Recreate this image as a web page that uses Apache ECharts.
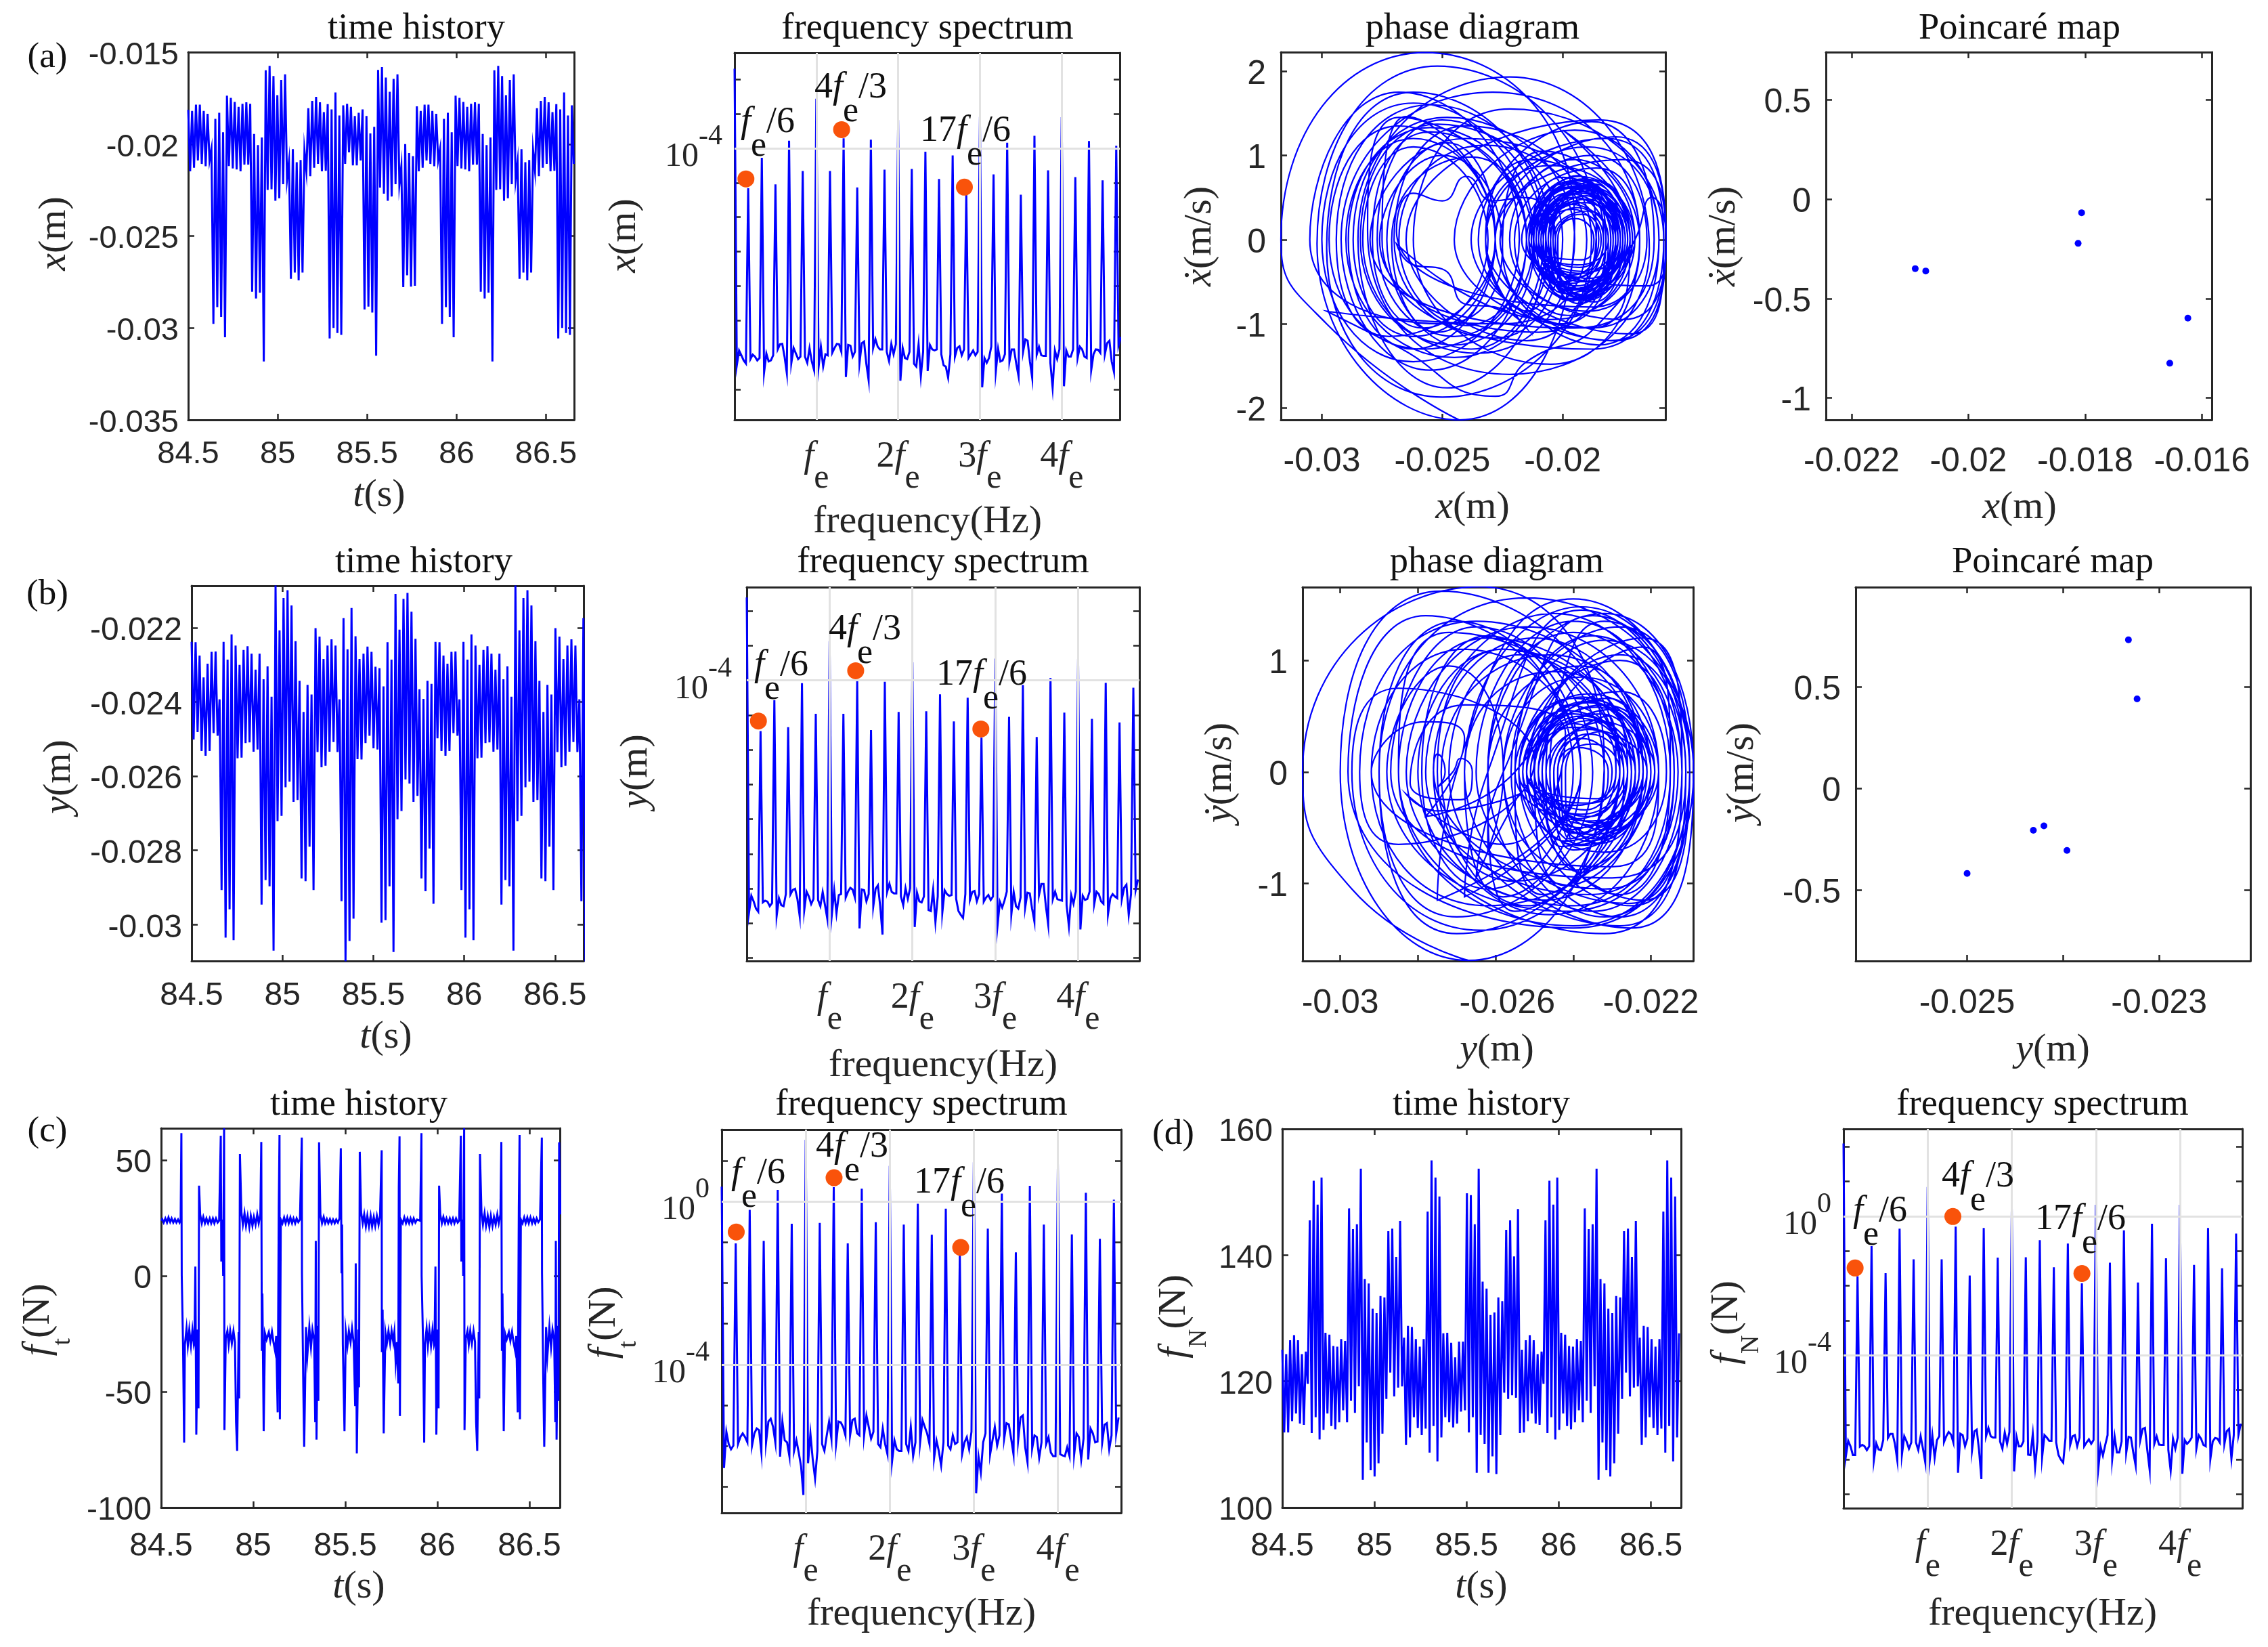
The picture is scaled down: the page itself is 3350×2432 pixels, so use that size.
<!DOCTYPE html>
<html><head><meta charset="utf-8">
<style>html,body{margin:0;padding:0;background:#fff}#c{width:3350px;height:2432px}</style>
<script src="https://cdn.jsdelivr.net/npm/echarts@6/dist/echarts.min.js"></script>
</head><body><div id="c"></div>
<script>
// ---------- time histories: alternating crest / trough samples ----------
const historyX = [
-.01814,-.02148,-.0182,-.02129,-.01786,-.02089,-.01786,-.02108,-.0182,-.0212,-.01835,-.02089,-.02026,-.02978,-.01863,-.02887,-.0183,-.0294,-.01936,-.03051,
-.01737,-.0212,-.01749,-.02132,-.01771,-.02138,-.01798,-.02148,-.01781,-.02112,-.01773,-.02112,-.01781,-.02803,-.01945,-.0284,-.02006,-.02808,-.01964,-.03182,
-.01599,-.02249,-.01575,-.02246,-.0163,-.02308,-.01734,-.02295,-.01651,-.02218,-.01621,-.02194,-.02096,-.02733,-.02028,-.02699,-.02099,-.02741,-.02087,-.02699,
-.02034,-.02148,-.01805,-.02175,-.01765,-.02129,-.01743,-.02108,-.01773,-.02148,-.01826,-.02145,-.01783,-.03057,-.01811,-.03,-.01719,-.03028,-.01844,-.03038,
-.01789,-.02108,-.01781,-.02045,-.01798,-.02116,-.01847,-.02116,-.0183,-.02089,-.01811,-.0290,-.01847,-.02884,-.01942,-.02916,-.01906,-.03151,
-.01597,-.02237,-.01581,-.0227,-.01638,-.02308,-.01716,-.02285,-.01646,-.02218,-.01621,-.0222,-.0212,-.02778,-.02,-.02714,-.02049,-.02775,-.02065,-.02771,-.01795,-.02148,
-.0182,-.02129,-.01786,-.02089,-.01786,-.02108,-.0182,-.0212,-.01835,-.02089,-.02026,-.02978,-.01863,-.02887,-.0183,-.0294,-.01936,-.03051,
-.01737,-.0212,-.01749,-.02132,-.01771,-.02138,-.01798,-.02148,-.01781,-.02112,-.01773,-.02112,-.01781,-.02803,-.01945,-.0284,-.02006,-.02808,-.01964,-.03182,
-.01599,-.02249,-.01575,-.02246,-.0163,-.02308,-.01734,-.02295,-.01651,-.02218,-.01621,-.02194,-.02096,-.02733,-.02028,-.02699,-.02099,-.02741,-.02087,-.02699,
-.02034,-.02148,-.01805,-.02175,-.01765,-.02129,-.01743,-.02108,-.01773,-.02148,-.01826,-.02145,-.01783,-.03057,-.01811,-.03,-.01719,-.03028,-.01844,-.03038,-.01789,-.02108
];
const historyY = [
-.02238,-.02501,-.02239,-.02481,-.02275,-.02532,-.02334,-.02545,-.02297,-.02532,-.02265,-.02484,-.02264,-.02491,-.02393,-.02907,-.02238,-.03035,-.02286,-.02959,
-.02218,-.03042,-.02248,-.02552,-.023,-.0255,-.0226,-.02511,-.0225,-.02509,-.0227,-.02534,-.02313,-.02528,-.0227,-.02946,-.02339,-.0288,-.02304,-.02897,
-.02386,-.0307,-.02086,-.02721,-.02207,-.02707,-.0212,-.0263,-.02099,-.02615,-.0214,-.02669,-.02236,-.02664,-.02343,-.02876,-.02427,-.02883,-.02354,-.0279,
-.0238,-.02907,-.02201,-.02535,-.02224,-.02576,-.02284,-.02572,-.02248,-.02534,-.02231,-.02508,-.02248,-.02535,-.02393,-.02937,-.02174,-.03099,-.02258,-.03044,
-.02147,-.02984,-.02223,-.02554,-.02284,-.02555,-.0227,-.02511,-.02251,-.02491,-.02265,-.02525,-.02305,-.02528,-.02309,-.02995,-.02358,-.02988,-.02239,-.02897,
-.02286,-.03074,-.02109,-.02716,-.02205,-.02694,-.02122,-.02609,-.02106,-.0262,-.02157,-.02669,-.0223,-.02653,-.02366,-.02876,-.02392,-.0291,-.02343,-.02795,
-.02351,-.02944,-.02238,-.02498,-.02239,-.02532,-.02275,-.02545,-.02297,-.02532,-.02265,-.02484,-.02264,-.02491,-.02393,-.02907,-.02238,-.03035,-.02286,-.02959,
-.02218,-.03042,-.02248,-.02552,-.023,-.0255,-.0226,-.02511,-.0225,-.02509,-.0227,-.02534,-.02313,-.02528,-.0227,-.02946,-.02339,-.0288,-.02304,-.02897,
-.02386,-.0307,-.02086,-.02721,-.02207,-.02707,-.0212,-.0263,-.02099,-.02615,-.0214,-.02669,-.02236,-.02664,-.02343,-.02876,-.02427,-.02883,-.02354,-.0279,
-.0238,-.02907,-.02201,-.02535,-.02224,-.02576,-.02284,-.02572,-.02248,-.02534,-.02231,-.02508,-.02248,-.02535,-.02393,-.02937,-.02174,-.03099,-.02258,-.03044
];
const historyFN = [
125,111.9,124.3,111.9,126.5,113.7,127.3,114.9,126.5,113.3,124.3,113.1,124.7,119.6,145.5,111.8,151.8,114.3,148,110.8,
152.3,112.3,127.7,114.9,127.4,112.9,125.6,112.4,125.5,113.5,126.7,115.4,126.4,113.5,147.4,116.9,144.1,115,144.9,119.2,
153.7,104.4,136.2,110.3,135.5,105.9,131.5,104.9,130.8,107,133.5,111.7,133.3,117.2,143.8,121.4,144.2,117.6,139.7,119,
145.4,119.2,126.9,109.9,128.8,111.1,128.6,114.3,126.7,112.6,125.5,111.5,126.7,112.5,146.9,108.7,155,112.9,152.3,107.3,
149.3,111.1,127.6,114.3,127.7,113.5,126.1,112.7,123.8,113.3,126.3,115.2,126.3,115.4,149.8,111.9,149.5,114.3,144.9,105.5,
153.7,111.5,135.8,110.1,134.7,105.5,130.5,108.1,130.9,105.3,133.3,111.5,132.7,118.2,144,117.2,145.5,117.8,139.8,117.4,
147.3,111.8,125,111.9,126.5,113.7,127.3,114.9,126.5,113.3,124.3,113.1,124.7,119.6,145.5,111.8,151.8,114.3,148,110.8,
152.3,112.3,127.7,114.9,127.4,112.9,125.6,112.4,125.5,113.5,126.7,115.4,126.4,113.5,147.4,116.9,144.1,115,144.9,119.2,
153.7,104.4,136.2,110.3,135.5,105.9,131.5,104.9,130.8,107,133.5,111.7,133.3,117.2,143.8,121.4,144.2,117.6,139.7,119,
145.4,119.2,126.9,109.9,128.8,111.1,128.6,114.3,126.7,112.6,125.5,111.5,126.7,112.5,146.9,108.7,155,112.9,152.3,107.3,149.3,111.1,127.6
];
// tangential force: [seconds after 84.5, newtons]
const historyFt = [
[0,23.8],[.006,24.5],[.014,23],[.023,24.8],[.032,23],[.04,25.2],[.049,23.2],[.057,24.8],[.066,23],[.075,24.5],[.083,23],[.092,24.3],[.1,23],[.106,24.3],
[.11,61.6],[.112,0],[.119,-29.7],[.125,-72],[.129,-29.7],[.138,-22.7],[.145,-30.2],[.153,-23.2],[.162,-30.2],[.17,-23.4],[.178,-29.7],[.181,-28.6],[.186,4],[.191,-68.6],[.199,-23.2],[.203,-57.2],[.206,38.9],
[.212,26.5],[.221,22.7],[.229,25.4],[.238,22.7],[.246,24.8],[.255,22.7],[.264,24.8],[.272,22.7],[.281,24.8],[.289,22.7],[.298,24.8],[.307,23],[.315,23.8],[.318,24.3],[.324,60.5],[.327,6.2],[.332,24.3],[.337,0],[.342,63.7],[.344,-66.6],
[.351,-27],[.36,-23.8],[.367,-29.7],[.375,-23.8],[.384,-29.2],[.393,-23.8],[.401,-28.6],[.407,-63.2],[.413,-75.6],[.421,-24.3],[.424,-52.9],[.428,52.6],
[.436,27.5],[.444,22.1],[.453,27],[.461,21.6],[.47,25.9],[.479,21.1],[.487,25.9],[.496,21.6],[.504,25.4],[.513,22.1],[.522,26.5],[.53,22.7],[.539,26.5],
[.544,57.8],[.547,-32.4],[.55,-7.6],[.557,-67],[.564,-24.8],[.573,-27.5],[.585,-24.3],[.593,-28.1],[.602,-24.1],[.61,-28.6],[.619,-32.4],[.625,-26],[.633,-58.9],[.639,29.7],[.643,60.8],[.645,-61.9],
[.65,24.3],[.659,22.7],[.668,25.2],[.676,22.7],[.685,25.2],[.693,22.7],[.702,25.2],[.711,22.7],[.719,24.8],[.728,22.7],[.736,24.8],[.745,23.2],[.754,24.3],[.764,59.7],[.765,1.1],[.772,-46.4],[.777,-73.8],
[.787,-22.1],[.794,-34.6],[.805,-22.1],[.814,-30.8],[.822,-23.2],[.831,-27.5],[.837,-63.2],[.84,15.1],[.844,-70.7],[.851,-21.6],[.854,-54],[.858,57.6],
[.865,26.5],[.874,22.7],[.883,25.4],[.891,22.7],[.9,24.5],[.908,22.7],[.917,24.5],[.926,22.7],[.934,24.3],[.943,22.7],[.951,24.3],[.96,23],[.969,24.8],
[.976,55.1],[.98,1.1],[.983,22.1],[.987,-29.7],[.996,-67],[1.003,-23.8],[1.012,-30.2],[1.02,-23.8],[1.029,-28.6],[1.037,-22.7],[1.046,-29.2],[1.054,-56.2],[1.057,5.4],[1.063,-76.7],[1.072,-23.2],[1.075,-48.1],[1.079,53.5],
[1.086,27.5],[1.095,22.7],[1.103,26.5],[1.112,21.3],[1.12,25.9],[1.129,21.3],[1.138,25.9],[1.146,21.3],[1.155,25.4],[1.163,21.6],[1.172,25.9],[1.181,22.1],[1.189,25.9],
[1.198,54.2],[1.199,-32.9],[1.203,-14.6],[1.209,-68],[1.218,-24.3],[1.226,-29.2],[1.235,-23.8],[1.244,-29.2],[1.252,-23.8],[1.261,-28.6],[1.267,-24.3],[1.274,-37.3],[1.281,-28.6],[1.288,-46.4],[1.291,38.3],[1.295,60.2],[1.297,-60.5],
[1.302,24.3],[1.312,22.7],[1.321,25.2],[1.33,22.7],[1.338,24.8],[1.347,22.7],[1.355,24.8],[1.364,22.7],[1.372,24.8],[1.381,23],[1.39,24.3],[1.407,23.8],
[1.414,61.6],[1.415,0],[1.423,-29.7],[1.429,-72],[1.433,-29.7],[1.442,-22.7],[1.449,-30.2],[1.457,-23.2],[1.466,-30.2],[1.474,-23.4],[1.482,-29.7],[1.485,-28.6],[1.49,4],[1.495,-68.6],[1.503,-23.2],[1.507,-57.2],[1.51,38.9],
[1.516,26.5],[1.525,22.7],[1.533,25.4],[1.542,22.7],[1.55,24.8],[1.559,22.7],[1.568,24.8],[1.576,22.7],[1.585,24.8],[1.593,22.7],[1.602,24.8],[1.611,23],[1.619,23.8],[1.622,24.3],[1.628,60.5],[1.631,6.2],[1.636,24.3],[1.641,0],[1.646,63.7],[1.648,-66.6],
[1.655,-27],[1.664,-23.8],[1.671,-29.7],[1.679,-23.8],[1.688,-29.2],[1.697,-23.8],[1.705,-28.6],[1.711,-63.2],[1.717,-75.6],[1.725,-24.3],[1.728,-52.9],[1.732,52.6],
[1.74,27.5],[1.748,22.1],[1.757,27],[1.765,21.6],[1.774,25.9],[1.783,21.1],[1.791,25.9],[1.8,21.6],[1.808,25.4],[1.817,22.1],[1.826,26.5],[1.834,22.7],[1.843,26.5],
[1.848,57.8],[1.851,-32.4],[1.854,-7.6],[1.861,-67],[1.868,-24.8],[1.877,-27.5],[1.889,-24.3],[1.897,-28.1],[1.906,-24.1],[1.914,-28.6],[1.923,-32.4],[1.929,-26],[1.937,-58.9],[1.943,29.7],[1.947,60.8],[1.949,-61.9],
[1.954,24.3],[1.963,22.7],[1.972,25.2],[1.98,22.7],[1.989,25.2],[1.997,22.7],[2.006,25.2],[2.015,22.7],[2.023,24.8],[2.032,22.7],[2.04,24.8],[2.049,23.2],[2.058,24.3],[2.068,59.7],[2.069,1.1],[2.076,-46.4],[2.081,-73.8],
[2.091,-22.1],[2.098,-34.6],[2.109,-22.1],[2.118,-30.8],[2.126,-23.2],[2.135,-27.5],[2.141,-63.2],[2.144,15.1],[2.148,-70.7],[2.155,-21.6],[2.158,-54],[2.162,57.6],[2.169,26.5]
];
// ---------- log10 amplitude spectra, harmonic then five noise-floor bins ----------
const spectrumX = [
-1.69,-10.3,-9.87,-10.01,-10.16,-10.25, -5.16,-10.12,-9.99,-10.05,-10.16,-10.09, -4.28,-10.51,-9.96,-10.19,-10.16,-10.01, -5.05,-9.84,-9.69,-9.68,-10.05,-10.53,
-3.78,-10.23,-9.8,-9.96,-10.12,-10.05, -4.66,-10.05,-10.23,-9.8,-10.19,-10.44, -2.56,-10.34,-9.76,-10.34,-9.98,-10.01, -4.66,-9.94,-9.8,-9.68,-9.69,-9.91,
-3.71,-10.64,-9.71,-9.73,-10.05,-9.91, -5.14,-10.23,-9.66,-9.61,-10.26,-10.73, -3.75,-9.8,-9.54,-9.76,-9.84,-9.84, -4.62,-9.91,-10.18,-9.68,-9.98,-9.69,
-3.18,-10.75,-9.8,-10.09,-10.12,-9.91, -4.6,-10.26,-10.34,-9.69,-10.62,-9.91, -4.1,-10.47,-9.71,-9.84,-9.87,-9.84, -4.89,-9.98,-10.3,-10.34,-10.66,-9.98,
-4.21,-10.05,-9.8,-9.75,-10.01,-9.84, -5.35,-10.09,-9.98,-9.87,-10.01,-9.91, -3.09,-10.94,-10.09,-10.23,-10.09,-9.76, -4.76,-10.48,-9.82,-10.19,-10.16,-9.98,
-3.84,-10.19,-9.84,-9.84,-10.26,-10.62, -5.35,-9.91,-9.55,-9.59,-10.19,-10.66, -3.64,-9.99,-9.76,-10.01,-10.03,-10.03, -4.64,-10.23,-10.96,-9.87,-10.12,-9.84,
-3.1,-10.91,-9.87,-10.05,-10.05,-9.84, -4.84,-10.09,-9.76,-9.84,-10.05,-10.09, -3.79,-10.44,-9.98,-9.84,-9.85,-9.94, -4.93,-9.98,-9.66,-9.59,-10.19,-10.49,
-3.93,-9.73,-9.48
];
const spectrumY = [
-1.61,-10.69,-10.21,-10.37,-10.58,-10.67, -5.46,-10.4,-10.35,-10.38,-10.51,-10.42, -4.57,-10.79,-10.28,-10.48,-10.51,-10.16, -5.35,-10.17,-10.04,-10.01,-10.3,-10.79,
-4.08,-10.62,-10.09,-10.23,-10.45,-10.3, -4.96,-10.33,-10.51,-10.1,-10.48,-10.87, -2.87,-10.74,-10.05,-10.72,-10.19,-10.16, -4.96,-10.26,-10.09,-9.98,-10.03,-10.26,
-4.01,-11.15,-10.03,-10.05,-10.37,-10.16, -5.43,-10.51,-10.01,-9.91,-10.51,-11.33, -4.04,-10.1,-9.86,-10.1,-10.14,-10.14, -4.91,-10.23,-10.48,-9.99,-10.3,-9.99,
-3.48,-11.11,-10.12,-10.37,-10.4,-10.23, -4.89,-10.62,-10.65,-10.03,-10.97,-10.23, -4.4,-10.69,-10.05,-10.16,-10.21,-10.19, -5.18,-10.3,-10.65,-10.76,-10.85,-10.16,
-4.5,-10.33,-10.1,-10.07,-10.37,-10.16, -5.65,-10.38,-10.26,-10.19,-10.33,-10.23, -3.37,-11.06,-10.38,-10.55,-10.35,-10.09, -5.05,-10.74,-10.1,-10.51,-10.58,-10.26,
-4.13,-10.55,-10.12,-10.14,-10.58,-10.95, -5.63,-10.19,-9.87,-9.87,-10.51,-11.04, -3.93,-10.31,-10.09,-10.31,-10.33,-10.35, -4.93,-10.48,-11.09,-10.19,-10.44,-10.09,
-3.38,-11.18,-10.21,-10.33,-10.3,-10.09, -5.11,-10.45,-10.09,-10.16,-10.37,-10.44, -4.07,-10.74,-10.28,-10.16,-10.23,-10.28, -5.21,-10.31,-9.98,-9.89,-10.76,-10.16,
-4.21,-10.05,-9.74
];
const spectrumFt = [
.36,-6.54,-5.65,-5.95,-6.08,-5.99, -1.03,-5.95,-5.78,-5.69,-5.78,-5.91, -.21,-5.99,-5.69,-5.57,-5.61,-6.16, -.97,-5.91,-5.4,-5.33,-5.53,-5.92,
.28,-6.26,-5.4,-5.86,-5.91,-6.25, -.55,-6.12,-5.86,-6.16,-6.5,-7.2, 1.51,-6.42,-5.69,-6.33,-6.8,-6.12, -.53,-5.95,-6.12,-5.74,-5.4,-5.82,
.35,-5.95,-5.4,-5.42,-5.53,-5.74, -1.03,-5.74,-5.36,-5.33,-5.69,-5.74, .31,-5.74,-5.25,-5.53,-5.82,-5.65, -.51,-5.95,-6.03,-5.57,-5.95,-6.2,
.87,-6.37,-5.86,-6.08,-6.12,-6.12, -.57,-5.95,-6.12,-5.53,-6.25,-5.91, -.06,-5.91,-5.36,-5.53,-5.69,-5.95, -.82,-6.29,-5.86,-6.12,-6.48,-5.91,
-.18,-5.99,-6.08,-5.74,-5.95,-5.91, -1.31,-6.2,-5.91,-5.78,-6.08,-5.65, .96,-7.16,-6.25,-6.65,-5.91,-5.69, -.67,-6.2,-5.86,-5.53,-5.99,-5.74,
.19,-5.82,-5.44,-5.47,-5.82,-6.2, -1.25,-5.86,-5.3,-5.25,-6.03,-6.4, .38,-6.06,-5.74,-5.78,-6.29,-5.91, -.57,-5.95,-5.78,-6.16,-6.25,-6.25,
.92,-6.2,-6.23,-6.25,-6.03,-6.25, -.81,-6.2,-5.69,-5.78,-6.33,-5.82, .21,-6.33,-5.57,-5.69,-5.91,-5.89, -.92,-5.91,-5.48,-5.44,-6.08,-5.74,
.04,-5.69,-5.3
];
const spectrumFN = [
2.09,-6.91,-6.46,-6.62,-6.87,-6.87, -1.73,-6.63,-6.58,-6.62,-6.73,-6.62, -.86,-7.02,-6.53,-6.71,-6.73,-6.44, -1.64,-6.38,-6.26,-6.26,-6.55,-7.02,
-.36,-6.86,-6.33,-6.48,-6.69,-6.51, -1.24,-6.51,-6.73,-6.33,-6.69,-7.09, .84,-6.96,-6.3,-6.95,-6.44,-6.33, -1.24,-6.5,-6.33,-6.21,-6.28,-6.51,
-.3,-7.38,-6.26,-6.3,-6.62,-6.4, -1.71,-6.73,-6.19,-6.14,-6.73,-7.56, -.34,-6.33,-6.09,-6.33,-6.37,-6.37, -1.19,-6.48,-6.69,-6.22,-6.55,-6.21,
.24,-7.34,-6.33,-6.62,-6.62,-6.48, -1.18,-6.86,-6.87,-6.26,-7.22,-6.48, -.69,-6.93,-6.3,-6.37,-6.46,-6.46, -1.47,-6.51,-6.87,-7,-7.09,-6.37,
-.79,-6.58,-6.33,-6.3,-6.62,-6.37, -1.93,-6.62,-6.51,-6.42,-6.55,-6.44, .33,-7.29,-6.62,-6.89,-6.58,-6.3, -1.34,-6.98,-6.33,-6.8,-6.8,-6.48,
-.41,-6.8,-6.35,-6.37,-6.8,-7.17, -1.91,-6.44,-6.12,-6.09,-6.73,-7.29, -.22,-6.55,-6.33,-6.57,-6.58,-6.58, -1.21,-6.73,-7.32,-6.4,-6.69,-6.37,
.33,-7.41,-6.44,-6.55,-6.48,-6.37, -1.4,-6.69,-6.3,-6.4,-6.58,-6.62, -.34,-6.98,-6.48,-6.38,-6.4,-6.51, -1.5,-6.55,-6.19,-6.12,-6.98,-6.3,
-.5,-6.3,-5.97
];
// marked harmonics: [f/fe, log10 amplitude]
const markedX = [[.139,-4.89],[1.309,-3.46],[2.81,-5.13]];
const markedY = [[.141,-5.17],[1.315,-3.72],[2.826,-5.4]];
const markedFt = [[.173,-.75],[1.337,.58],[2.844,-1.13]];
const markedFN = [[.138,-1.49],[1.3,-.01],[2.834,-1.65]];
// ---------- phase portraits: successive left / top / right / bottom turning points ----------
const phaseX = [
[-.0243,-2.14],[-.0298,-1],[-.0317,0],[-.0257,2.22],[-.0195,.2],[-.0243,-2.14],[-.0302,-.05],[-.0252,2.06],[-.0186,.1],[-.025,-1.87],
[-.0298,-.1],[-.0262,1.75],[-.0207,0],[-.0248,-1.76],[-.0285,0],[-.0222,1.93],[-.0164,-.1],[-.0222,-1.6],
[-.0281,.1],[-.0268,1.45],[-.0215,0],[-.0255,-1.55],[-.0292,0],[-.0229,1.75],[-.0168,0],[-.0205,-1.48],
[-.0262,0],[-.0222,1.55],[-.0158,0],[-.0188,-1.3],[-.0275,0],[-.0265,1.46],[-.0228,0],[-.0262,-1.3],
[-.0289,0],[-.0255,1.33],[-.0212,-.1],[-.0245,-1.25],[-.0284,0],[-.0252,1.37],[-.02,0],[-.0228,-1.17],
[-.027,0],[-.024,1.35],[-.0188,0],[-.0215,-1.2],[-.0265,0],[-.0185,1.42],[-.0157,0],[-.018,-1.2],
[-.0228,0],[-.0178,1.22],[-.0157,0],[-.0178,-1.2],[-.0235,0],[-.0188,1.4],[-.0162,0],[-.0195,-1.05],
[-.028,0],[-.024,1.2],[-.018,0],[-.021,-1.1],[-.0276,0],[-.025,1],[-.0225,-.1],[-.025,-1],
[-.0305,0],[-.0268,1.75],[-.0218,0],[-.0262,-1.45],[-.03,0],[-.0262,1.62],[-.0212,0],[-.0258,-1.3],
[-.0297,0],[-.0268,1.35],[-.0228,0],[-.0272,-1.15],[-.0294,0],[-.0255,1.6],[-.0205,0],[-.0245,-1.4],
[-.029,0],[-.0262,1.2],[-.0228,0],[-.0262,-1.15],[-.0287,0],[-.0248,1.45],[-.0195,0],[-.0235,-1.35],
[-.0283,0],[-.0262,1.1],[-.0231,0],[-.0258,-1.05],[-.0279,0],[-.0255,1.28],[-.0215,0],[-.0245,-1.15],
[-.0277,0],[-.025,1.42],[-.0208,0],[-.0238,-1.3],[-.0273,0],[-.0248,1.15],[-.0228,0],[-.0252,-1.1],
[-.0271,0],[-.0238,.98],[-.0215,0],[-.024,-1.02],[-.0268,0],[-.0232,1.12],[-.019,0],[-.0225,-1],
[-.0298,-.85],[-.027,-1.25],[-.0228,-1.86],[-.0215,-1.45],[-.0185,-1],[-.0168,0],[-.02,1.3],[-.0172,0],[-.0188,-1.05],
[-.0245,0],[-.0195,1.3],[-.016,0],[-.0188,-1.05],[-.0238,0],[-.0182,1.2],[-.0158,0],[-.0172,-1.12],
[-.0232,0],[-.019,1.1],[-.016,0],[-.0185,-1.25],[-.0228,0],[-.0175,.95],[-.0157,0],[-.0175,-.95],
[-.0226,0],[-.0188,1],[-.0165,0],[-.019,-.85],[-.0222,0],[-.0195,.95],[-.017,0],[-.0198,-.9],[-.022,0],[-.0186,.85],[-.0168,0],[-.0188,-.8],
[-.0269,.1],[-.0262,.55],[-.025,.46],[-.024,.75],[-.0229,.46],[-.0216,.5],[-.0203,0],[-.0215,-.85],
[-.0232,0],[-.0213,.95],[-.0178,0],[-.02,-1],[-.0225,-.1],[-.0208,1.05],[-.0172,0],[-.0205,-.95],
[-.0269,-.05],[-.0262,-.3],[-.025,-.35],[-.024,-.77],[-.0228,-.8],[-.0215,-1.05],[-.0232,0],[-.0205,.88],
[-.017,0],[-.0195,-.82],[-.0172,-.1],[-.0163,.5],[-.0157,0],[-.0165,-.55],[-.0217,0],[-.0193,.75],[-.0171,0],[-.0195,-.72],
[-.0214,0],[-.0195,.7],[-.0176,0],[-.0195,-.72],[-.0212,0],[-.0198,.62],[-.018,0],[-.0192,-.7],
[-.021,0],[-.0192,.6],[-.0178,0],[-.0197,-.6],[-.0208,0],[-.0195,.5],[-.0182,0],[-.0194,-.55],
[-.0213,0],[-.0197,.68],[-.0174,0],[-.019,-.66],[-.0209,0],[-.0188,.62],[-.0173,0],[-.0192,-.5],
[-.0207,.05],[-.0195,.45],[-.0185,0],[-.0196,-.42],[-.0211,0],[-.0193,.57],[-.0176,0],[-.0198,-.64],
[-.0205,0],[-.0194,.38],[-.0183,0],[-.0195,-.45],[-.021,0],[-.0198,.55],[-.0179,0],[-.0193,-.58],
[-.0214,0],[-.0191,.72],[-.0175,0],[-.0194,-.68],[-.0206,0],[-.019,.48],[-.0177,0],[-.0192,-.4],
[-.0212,0],[-.0196,.66],[-.018,0],[-.0198,-.72],[-.0208,0],[-.0193,.55],[-.0174,0],[-.0191,-.6],
[-.0203,0],[-.0192,.3],[-.0184,0],[-.0193,-.33],[-.021,0],[-.0189,.65],[-.0178,0],[-.0195,-.58],
[-.0213,0],[-.02,.74],[-.0175,0],[-.0187,-.74],[-.0206,0],[-.0186,.7],[-.0172,0],[-.0196,-.7],
[-.0211,0],[-.0194,.76],[-.0182,0],[-.019,-.62],[-.0204,0],[-.0197,.42],[-.0181,0],[-.0188,-.5],
[-.0209,0],[-.0191,.44],[-.0177,0],[-.0199,-.5],[-.0202,0],[-.0195,.25],[-.0187,0],[-.0192,-.24],
[-.0214,0],[-.0188,.58],[-.0179,0],[-.0193,-.76],[-.0207,0],[-.0199,.62],[-.0176,0],[-.0189,-.46],
[-.021,0],[-.019,.52],[-.0183,0],[-.0197,-.52],[-.0213,0],[-.0194,.62],[-.0173,0],[-.019,-.72],
[-.0205,0],[-.0187,.66],[-.0175,0],[-.0199,-.64],[-.0208,0],[-.0196,.36],[-.0186,0],[-.0191,-.38],
[-.0212,0],[-.0192,.7],[-.0177,0],[-.0195,-.6],[-.0204,0],[-.0189,.34],[-.0181,0],[-.0194,-.3],
[-.0211,0],[-.0197,.5],[-.0178,0],[-.0188,-.68],[-.0215,0],[-.0193,.64],[-.0172,0],[-.0196,-.74]
];
const phaseY = [
[-.0267,-1.69],[-.0297,-1.05],[-.03097,0],[-.0264,1.66],[-.0232,.1],[-.0267,-1.69],[-.03,0],[-.0274,1.62],[-.0228,0],[-.027,-1.45],
[-.029,0],[-.0252,1.56],[-.0209,0],[-.024,-1.4],[-.0298,0],[-.0278,1.4],[-.0238,0],[-.0275,-1.15],
[-.027,0],[-.024,1.55],[-.021,0],[-.024,-1.38],[-.0285,0],[-.0272,1.25],[-.0228,0],[-.0264,-1.42],
[-.0297,0],[-.0285,.75],[-.025,.1],[-.0285,-.65],[-.0295,0],[-.0265,1.35],[-.0222,0],[-.0262,-1.2],
[-.0292,0],[-.0268,1.1],[-.0238,0],[-.0268,-1.12],[-.0262,0],[-.0238,1.45],[-.0212,0],[-.0232,-1.45],
[-.0285,0],[-.0262,1.2],[-.0225,0],[-.0255,-1.25],[-.0262,0],[-.024,1.25],[-.0213,0],[-.0242,-1.25],
[-.0288,0],[-.0272,.95],[-.0258,0],[-.0265,-.95],[-.0258,0],[-.0235,1.4],[-.0211,0],[-.0228,-1.38],
[-.0272,0],[-.0254,1.05],[-.0228,0],[-.0255,-.98],[-.0275,0],[-.0258,1.1],[-.0224,0],[-.0248,-1.1],
[-.0255,0],[-.0235,1.22],[-.0212,0],[-.0235,-1.25],[-.0262,0],[-.0232,1.42],[-.0209,0],[-.0225,-1.4],
[-.0268,0],[-.0238,1.48],[-.021,0],[-.0232,-1.3],[-.0258,0],[-.0228,1.3],[-.021,0],[-.0228,-1.3],
[-.0256,0],[-.0232,1.18],[-.021,0],[-.0222,-1.15],[-.0252,0],[-.0222,1.2],[-.0212,0],[-.0226,-1.18],
[-.0265,0],[-.024,1.35],[-.0214,0],[-.0236,-1.1],[-.0278,0],[-.0245,1.42],[-.0215,0],[-.024,-1.2],
[-.0283,0],[-.0252,1.3],[-.0218,0],[-.0246,-1.28],[-.0276,0],[-.025,1.2],[-.0222,0],[-.0248,-1.15],
[-.028,0],[-.0258,1.1],[-.0232,0],[-.0252,-1.2],[-.0274,0],[-.0246,1.05],[-.022,0],[-.0242,-1.02],
[-.025,0],[-.0228,1.05],[-.0211,0],[-.023,-.95],[-.0287,0],[-.0265,1.3],[-.0235,0],[-.027,-1.3],
[-.029,0],[-.027,1.35],[-.024,0],[-.0262,-1.05],[-.0279,0],[-.0262,1.22],[-.0238,0],[-.0258,-1.12],
[-.0268,0],[-.0245,.9],[-.022,0],[-.024,-.88],[-.0258,0],[-.0238,.85],[-.0218,0],[-.023,-.85],
[-.0292,0],[-.0278,.45],[-.0268,.3],[-.0278,-.4],
[-.0255,0],[-.0232,1.35],[-.021,0],[-.0225,-1.2],[-.0254,0],[-.0228,1],[-.0214,0],[-.0232,-1.05],
[-.0276,.03],[-.0275,.16],[-.0273,0],[-.0275,-.14],[-.0271,0],[-.0269,.12],[-.0266,0],[-.0269,-.25],
[-.0282,-.1],[-.0268,.6],[-.0242,.35],[-.0258,-.65],[-.0283,-.2],[-.0275,-.35],[-.0254,-.2],[-.0262,-.72],
[-.0262,0],[-.0238,.95],[-.0222,0],[-.0238,-.9],[-.0248,0],[-.0222,1.12],[-.0215,0],[-.0228,-1.1],
[-.0249,0],[-.0228,.72],[-.0216,0],[-.0232,-.72],[-.0254,0],[-.024,.66],[-.022,0],[-.0238,-.66],
[-.0253,0],[-.0236,.62],[-.0224,0],[-.0242,-.62],[-.025,0],[-.0232,.6],[-.0219,0],[-.0235,-.56],
[-.0252,0],[-.0242,.55],[-.0225,0],[-.0234,-.6],[-.0248,0],[-.0238,.48],[-.0226,0],[-.0238,-.5],
[-.0251,0],[-.0234,.58],[-.0222,0],[-.024,-.55],[-.0246,0],[-.0232,.45],[-.0228,0],[-.0236,-.4],
[-.025,0],[-.0238,.5],[-.0224,0],[-.0232,-.52],[-.0247,0],[-.0236,.38],[-.0226,0],[-.0239,-.42],
[-.0245,0],[-.0238,.3],[-.023,0],[-.0237,-.34],[-.0249,0],[-.0233,.52],[-.0223,0],[-.0241,-.6],
[-.0243,0],[-.0235,.25],[-.0228,0],[-.0236,-.28],[-.0252,0],[-.0237,.63],[-.0221,0],[-.0233,-.64],
[-.0244,0],[-.0236,.34],[-.0227,0],[-.0238,-.38],[-.025,0],[-.024,.52],[-.0225,0],[-.0234,-.48],
[-.0253,0],[-.0231,.66],[-.0223,0],[-.0243,-.67],[-.0247,0],[-.0241,.6],[-.0227,0],[-.0231,-.6],
[-.0251,0],[-.0235,.46],[-.0219,0],[-.0239,-.66],[-.0242,0],[-.0233,.36],[-.0229,0],[-.024,-.3],
[-.0254,0],[-.0238,.67],[-.022,0],[-.0236,-.62],[-.0246,0],[-.0242,.44],[-.0224,0],[-.0233,-.46],
[-.0249,0],[-.023,.56],[-.0222,0],[-.0241,-.52],[-.0244,0],[-.0239,.22],[-.0231,0],[-.0234,-.24],
[-.0252,0],[-.0234,.64],[-.0226,0],[-.0238,-.65],[-.0248,0],[-.024,.4],[-.0221,0],[-.0235,-.44],
[-.0255,0],[-.0236,.7],[-.0218,0],[-.024,-.7],[-.0245,0],[-.0231,.5],[-.0229,0],[-.0237,-.56]
];
// ---------- Poincaré sections ----------
const poincareX = [[-.02091,-.349],[-.02073,-.361],[-.01812,-.222],[-.01806,-.068],[-.01655,-.825],[-.01624,-.598]];
const poincareY = [[-.02332,.73],[-.02323,.44],[-.02431,-.206],[-.0242,-.184],[-.02396,-.305],[-.025,-.418]];
// ---------- tick text ----------
const timeTicks = [84.5,85,85.5,86,86.5];
const timeLabels = ['84.5','85','85.5','86','86.5'];
const harmonicTicks = [1,2,3,4];
const harmonicLabels = ['{f|f}{e|e}','{n|2}{f|f}{e|e}','{n|3}{f|f}{e|e}','{n|4}{f|f}{e|e}'];
const logLabel04 = '{b|10}{s|-4}', logLabel0 = '{b|10}{s|0}';

const BLUE='#0000ff', INK='#262626', ORANGE='#f9530b', SANS='"Liberation Sans",Arial,sans-serif', SERIF='"Liberation Serif","Times New Roman",serif';
const grids=[],xAxes=[],yAxes=[],series=[],graphics=[];
const seq=(a,b,s)=>{const o=[];for(let v=a;v<=b+1e-9;v+=s)o.push(+v.toFixed(6));return o;};
const key=v=>Number(v).toFixed(6);
const AXIS_RICH={
 f:{fontFamily:SERIF,fontStyle:'italic',fontSize:54,verticalAlign:'top',color:INK},
 n:{fontFamily:SERIF,fontSize:54,verticalAlign:'top',color:INK},
 e:{fontFamily:SERIF,fontSize:50,lineHeight:84,verticalAlign:'bottom',color:INK},
 b:{fontFamily:SERIF,fontSize:50,lineHeight:76,verticalAlign:'bottom',color:INK},
 s:{fontFamily:SERIF,fontSize:42,verticalAlign:'top',color:INK}
};
function panel(c){
 const g=grids.length; grids.push({left:c.L,top:c.T,width:c.R-c.L,height:c.B-c.T,containLabel:false});
 const mapX={},mapY={};
 c.xLab.forEach(p=>mapX[key(p[0])]=p[1]); c.yLab.forEach(p=>mapY[key(p[0])]=p[1]);
 const fs=c.fs||48;
 const common={type:'value',gridIndex:g,scale:true,splitLine:{show:false},minorTick:{show:false},
   axisLine:{show:true,onZero:false,lineStyle:{color:INK,width:3}}};
 const tick=(vals)=>({show:true,inside:true,length:9,customValues:vals,lineStyle:{color:INK,width:2.5}});
 const lab=(vals,map,m,pad)=>({show:true,customValues:vals,margin:m,hideOverlap:false,showMinLabel:true,showMaxLabel:true,padding:pad,
   color:INK,fontFamily:SANS,fontSize:fs,rich:AXIS_RICH,formatter:v=>map[key(v)]||''});
 xAxes.push(Object.assign({},common,{min:c.xr[0],max:c.xr[1],position:'bottom',axisTick:tick(c.xT),axisLabel:lab(c.xLab.map(p=>p[0]),mapX,c.xm||24,0)}));
 xAxes.push(Object.assign({},common,{min:c.xr[0],max:c.xr[1],position:'top',axisTick:tick(c.xT),axisLabel:{show:false}}));
 yAxes.push(Object.assign({},common,{min:c.yr[0],max:c.yr[1],position:'left',axisTick:tick(c.yT),axisLabel:lab(c.yLab.map(p=>p[0]),mapY,c.ym||16,c.log?0:[10,0,0,0])}));
 yAxes.push(Object.assign({},common,{min:c.yr[0],max:c.yr[1],position:'right',axisTick:tick(c.yT),axisLabel:{show:false}}));
 return {xAxisIndex:2*g,yAxisIndex:2*g};
}
function line(ax,data,width,extra){
 series.push(Object.assign({type:'line',xAxisIndex:ax.xAxisIndex,yAxisIndex:ax.yAxisIndex,data:data,showSymbol:false,symbol:'none',
   animation:false,silent:true,clip:true,z:3,lineStyle:{color:BLUE,width:width,join:'miter',miterLimit:20}},extra||{}));
}
const hist=(a,dt)=>a.map((v,i)=>[84.5+i*dt,v]);
const spec=(a)=>a.map((v,i)=>[i/36,v]);
function addHistory(c,a){const ax=panel(c);line(ax,a,3);}
function addSpectrum(c,a,marks,gridY){
 c.log=true;
 const ax=panel(c);
 series.push({type:'line',xAxisIndex:ax.xAxisIndex,yAxisIndex:ax.yAxisIndex,data:[],silent:true,animation:false,z:1,
  markLine:{silent:true,symbol:'none',animation:false,label:{show:false},lineStyle:{color:'#e2e2e2',width:3,type:'solid'},
   data:harmonicTicks.map(v=>({xAxis:v})).concat(gridY.map(v=>({yAxis:v})))}});
 line(ax,a,3);
 series.push({type:'scatter',xAxisIndex:ax.xAxisIndex,yAxisIndex:ax.yAxisIndex,data:marks,symbolSize:25,silent:true,animation:false,z:5,
   itemStyle:{color:ORANGE,opacity:1}});
}
function addPhase(c,a){const ax=panel(c);line(ax,a,2.2,{smooth:.55});}
function addPoincare(c,a){const ax=panel(c);
 series.push({type:'scatter',xAxisIndex:ax.xAxisIndex,yAxisIndex:ax.yAxisIndex,data:a,symbolSize:10,silent:true,animation:false,z:3,itemStyle:{color:BLUE,opacity:1}});}
const TIME_LAB=timeTicks.map((v,i)=>[v,timeLabels[i]]);
const HARM_LAB=harmonicTicks.map((v,i)=>[v,harmonicLabels[i]]);
const decs=(a,b)=>seq(a,b,1);

// row (a)
addHistory({L:278,R:848,T:77,B:620,xr:[84.5,86.657],yr:[-.035,-.015],xT:timeTicks,yT:[-.035,-.03,-.025,-.02,-.015],xLab:TIME_LAB,
 yLab:[[-.035,'-0.035'],[-.03,'-0.03'],[-.025,'-0.025'],[-.02,'-0.02'],[-.015,'-0.015']],fs:47,xm:28,ym:14},hist(historyX,.01083));
addSpectrum({L:1085,R:1654,T:78,B:620,xr:[0,4.71],yr:[-11.886,-1.23],xT:harmonicTicks,yT:decs(-11,-2),xLab:HARM_LAB,yLab:[[-4,logLabel04]],xm:28,ym:18},spec(spectrumX),markedX,[-4]);
addPhase({L:1892,R:2460,T:77,B:620,xr:[-.0317,-.01573],yr:[-2.14,2.225],xT:[-.03,-.025,-.02],yT:[-2,-1,0,1,2],
 xLab:[[-.03,'-0.03'],[-.025,'-0.025'],[-.02,'-0.02']],yLab:[[-2,'-2'],[-1,'-1'],[0,'0'],[1,'1'],[2,'2']],fs:50,xm:37,ym:22},phaseX);
addPoincare({L:2697,R:3267,T:77,B:620,xr:[-.02244,-.01583],yr:[-1.11,.74],xT:[-.022,-.02,-.018,-.016],yT:[-1,-.5,0,.5],
 xLab:[[-.022,'-0.022'],[-.02,'-0.02'],[-.018,'-0.018'],[-.016,'-0.016']],yLab:[[-1,'-1'],[-.5,'-0.5'],[0,'0'],[.5,'0.5']],fs:50,xm:37,ym:22},poincareX);
// row (b)
addHistory({L:283,R:862,T:865,B:1419,xr:[84.5,86.657],yr:[-.03098,-.02087],xT:timeTicks,yT:[-.03,-.028,-.026,-.024,-.022],xLab:TIME_LAB,
 yLab:[[-.03,'-0.03'],[-.028,'-0.028'],[-.026,'-0.026'],[-.024,'-0.024'],[-.022,'-0.022']],fs:48,xm:28,ym:14},hist(historyY,.011));
addSpectrum({L:1103,R:1683,T:867,B:1419,xr:[0,4.74],yr:[-12.09,-1.31],xT:harmonicTicks,yT:decs(-12,-2),xLab:HARM_LAB,yLab:[[-4,logLabel04]],xm:28,ym:22},spec(spectrumY),markedY,[-4]);
addPhase({L:1924,R:2501,T:867,B:1419,xr:[-.03097,-.02091],yr:[-1.695,1.656],xT:[-.03,-.028,-.026,-.024,-.022],yT:[-1,0,1],
 xLab:[[-.03,'-0.03'],[-.0257,'-0.026'],[-.022,'-0.022']],yLab:[[-1,'-1'],[0,'0'],[1,'1']],fs:50,xm:38,ym:22},phaseY);
addPoincare({L:2741,R:3324,T:867,B:1419,xr:[-.02616,-.02205],yr:[-.848,.989],xT:[-.025,-.024,-.023],yT:[-.5,0,.5],
 xLab:[[-.025,'-0.025'],[-.023,'-0.023']],yLab:[[-.5,'-0.5'],[0,'0'],[.5,'0.5']],fs:50,xm:38,ym:22},poincareY);
// row (c,d)
addHistory({L:238,R:827,T:1666,B:2226,xr:[84.5,86.666],yr:[-100,63.7],xT:timeTicks,yT:[-100,-50,0,50],xLab:TIME_LAB,
 yLab:[[-100,'-100'],[-50,'-50'],[0,'0'],[50,'50']],fs:48,xm:34,ym:14},historyFt.map(p=>[84.5+p[0],p[1]]));
addSpectrum({L:1066,R:1656,T:1668,B:2234,xr:[0,4.753],yr:[-7.64,1.76],xT:harmonicTicks,yT:decs(-7,1),xLab:HARM_LAB,yLab:[[0,logLabel0],[-4,logLabel04]],xm:28,ym:18},spec(spectrumFt),markedFt,[0,-4]);
addHistory({L:1894,R:2483,T:1667,B:2226,xr:[84.5,86.664],yr:[100,160],xT:timeTicks,yT:[100,120,140,160],xLab:TIME_LAB,
 yLab:[[100,'100'],[120,'120'],[140,'140'],[160,'160']],fs:48,xm:34,ym:14},hist(historyFN,.01066));
addSpectrum({L:2723,R:3312,T:1667,B:2227,xr:[0,4.74],yr:[-8.4,2.51],xT:harmonicTicks,yT:decs(-8,2),xLab:HARM_LAB,yLab:[[0,logLabel0],[-4,logLabel04]],xm:28,ym:18},spec(spectrumFN),markedFN,[0,-4]);

// ---------- text ----------
const TXT_RICH={
 i:{fontFamily:SERIF,fontStyle:'italic',fontSize:54,verticalAlign:'top',fill:'#111'},
 r:{fontFamily:SERIF,fontSize:54,verticalAlign:'top',fill:'#111'},
 e:{fontFamily:SERIF,fontSize:52,lineHeight:88,verticalAlign:'bottom',fill:'#111'},
 j:{fontFamily:SERIF,fontStyle:'italic',fontSize:58,verticalAlign:'middle',fill:INK},
 q:{fontFamily:SERIF,fontSize:58,verticalAlign:'middle',fill:INK}
};
const SUB_RICH=Object.assign({},TXT_RICH,{
 j:{fontFamily:SERIF,fontStyle:'italic',fontSize:58,verticalAlign:'top',fill:INK},
 q:{fontFamily:SERIF,fontSize:58,verticalAlign:'top',fill:INK},
 u:{fontFamily:SERIF,fontSize:38,lineHeight:84,verticalAlign:'bottom',fill:INK}
});
function text(x,y,t,size,opt){
 opt=opt||{};
 graphics.push({type:'text',x:x,y:y,rotation:opt.rot?Math.PI/2:0,z:20,silent:true,
  style:{text:t,fontFamily:SERIF,fontSize:size,fill:opt.fill||'#111',align:opt.align||'center',verticalAlign:opt.va||'middle',rich:opt.rich||TXT_RICH}});
}
[[615,43,'time history'],[1370,43,'frequency spectrum'],[2175,43,'phase diagram'],[2983,43,'Poincaré map'],
 [626,831,'time history'],[1393,831,'frequency spectrum'],[2211,831,'phase diagram'],[3032,831,'Poincaré map'],
 [530,1632,'time history'],[1361,1632,'frequency spectrum'],[2188,1632,'time history'],[3017,1632,'frequency spectrum']
].forEach(a=>text(a[0],a[1],a[2],54.5));
[[70,85,'(a)'],[70,878,'(b)'],[70,1671,'(c)'],[1733,1675,'(d)']].forEach(a=>text(a[0],a[1],a[2],53));
// x names
[[560,732,'{j|t}{q|(s)}'],[2175,750,'{j|x}{q|(m)}'],[2983,750,'{j|x}{q|(m)}'],[570,1532,'{j|t}{q|(s)}'],[2211,1551,'{j|y}{q|(m)}'],[3032,1551,'{j|y}{q|(m)}'],[530,2344,'{j|t}{q|(s)}'],[2188,2344,'{j|t}{q|(s)}']]
 .forEach(a=>text(a[0],a[1],a[2],58));
[[1370,771],[1393,1574],[1361,2384],[3017,2384]].forEach(a=>text(a[0],a[1],'frequency(Hz)',58,{fill:INK}));
// y names
[[81,345,'{j|x}{q|(m)}'],[923,348,'{j|x}{q|(m)}'],[1773,349,'{j|ẋ}{q|(m/s)}'],[2547,349,'{j|ẋ}{q|(m/s)}'],
 [88,1147,'{j|y}{q|(m)}'],[940,1139,'{j|y}{q|(m)}'],[1803,1141,'{j|ẏ}{q|(m/s)}'],[2574,1141,'{j|ẏ}{q|(m/s)}']]
 .forEach(a=>text(a[0],a[1],a[2],58,{rot:true}));
[[70,1949,'{j|f}{u|t}{q|(N)}'],[906,1953,'{j|f}{u|t}{q|(N)}'],[1748,1944,'{j|f}{u|N}{q|(N)}'],[2564,1953,'{j|f}{u|N}{q|(N)}']]
 .forEach(a=>text(a[0],a[1],a[2],58,{rot:true,rich:SUB_RICH}));
// harmonic annotations
const A1='{i|f}{e|e}{r|/6}',A2='{r|4}{i|f}{e|e}{r|/3}',A3='{r|17}{i|f}{e|e}{r|/6}';
[[1094,154,A1],[1203,103,A2],[1359,167,A3],[1114,956,A1],[1224,903,A2],[1383,970,A3],
 [1080,1706,A1],[1205,1667,A2],[1350,1720,A3],[2737,1762,A1],[2868,1711,A2],[3006,1774,A3]]
 .forEach(a=>text(a[0],a[1],a[2],54,{align:'left',va:'top'}));

const chart=echarts.init(document.getElementById('c'),null,{renderer:'canvas',width:3350,height:2432});
chart.setOption({animation:false,backgroundColor:'#fff',grid:grids,xAxis:xAxes,yAxis:yAxes,series:series,graphic:{elements:graphics}});
</script></body></html>
